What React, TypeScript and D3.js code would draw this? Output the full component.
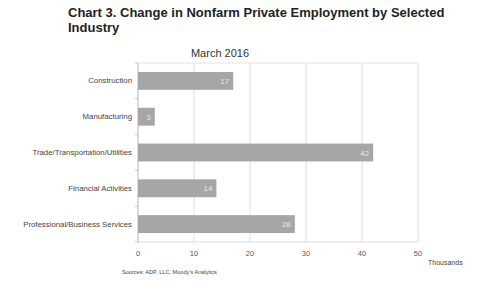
import React from "react";
import * as d3 from "d3";

const categories = [
  "Construction",
  "Manufacturing",
  "Trade/Transportation/Utilities",
  "Financial Activities",
  "Professional/Business Services",
];
const values = [17, 3, 42, 14, 28];
const xTicks = [0, 10, 20, 30, 40, 50];

const W = 500;
const H = 281;
const margin = { left: 138, right: 82, top: 63, bottom: 39 };

export default function App() {
  const x = d3.scaleLinear().domain([0, 50]).range([margin.left, W - margin.right]);
  const y = d3
    .scaleBand<string>()
    .domain(categories)
    .range([margin.top, H - margin.bottom])
    .paddingInner(0.5)
    .paddingOuter(0.25);
  const step = y.step();
  const font = "Liberation Sans, Arial, sans-serif";
  const bottom = H - margin.bottom;
  const boundaries = d3.range(categories.length + 1).map((i) => margin.top + i * step);

  return (
    <svg width={W} height={H} style={{ position: "absolute", left: 0, top: 0, background: "#fff" }}>
      <text x={68} y={17} fontFamily={font} fontWeight="bold" fontSize={13} fill="#222">
        Chart 3. Change in Nonfarm Private Employment by Selected
      </text>
      <text x={68} y={32} fontFamily={font} fontWeight="bold" fontSize={13} fill="#222">
        Industry
      </text>
      <text x={220} y={57} textAnchor="middle" fontFamily={font} fontSize={11} fill="#333">
        March 2016
      </text>
      {xTicks.map((t) => (
        <line key={"g" + t} x1={x(t)} x2={x(t)} y1={margin.top} y2={bottom} stroke="#dcdcdc" strokeWidth={1} />
      ))}
      <line x1={margin.left} x2={x(50)} y1={margin.top} y2={margin.top} stroke="#e4e4e4" />
      <line x1={margin.left} x2={x(50)} y1={bottom} y2={bottom} stroke="#dcdcdc" />
      <line x1={margin.left} x2={margin.left} y1={margin.top} y2={bottom} stroke="#c8c8c8" />
      {boundaries.map((b, i) => (
        <line key={"tk" + i} x1={margin.left - 3} x2={margin.left} y1={b} y2={b} stroke="#c8c8c8" />
      ))}
      {categories.map((c, i) => (
        <g key={c}>
          <rect x={x(0)} y={y(c)!} width={x(values[i]) - x(0)} height={y.bandwidth()} fill="#a6a6a6" />
          <text
            x={x(values[i]) - 4}
            y={y(c)! + y.bandwidth() / 2 + 3}
            textAnchor="end"
            fontFamily={font}
            fontSize={8}
            fill="#e8e8e8"
          >
            {values[i]}
          </text>
          <text
            x={margin.left - 6}
            y={y(c)! + y.bandwidth() / 2 + 2.5}
            textAnchor="end"
            fontFamily={font}
            fontSize={7.8}
            fill="#444"
          >
            {c}
          </text>
        </g>
      ))}
      {xTicks.map((t) => (
        <text key={"t" + t} x={x(t)} y={256} textAnchor="middle" fontFamily={font} fontSize={7.5} fill="#555">
          {t}
        </text>
      ))}
      <text x={428} y={265} fontFamily={font} fontSize={7} fill="#444">
        Thousands
      </text>
      <text x={122} y={274} fontFamily={font} fontSize={5.6} fill="#444">
        Sources: ADP, LLC, Moody's Analytics
      </text>
    </svg>
  );
}
